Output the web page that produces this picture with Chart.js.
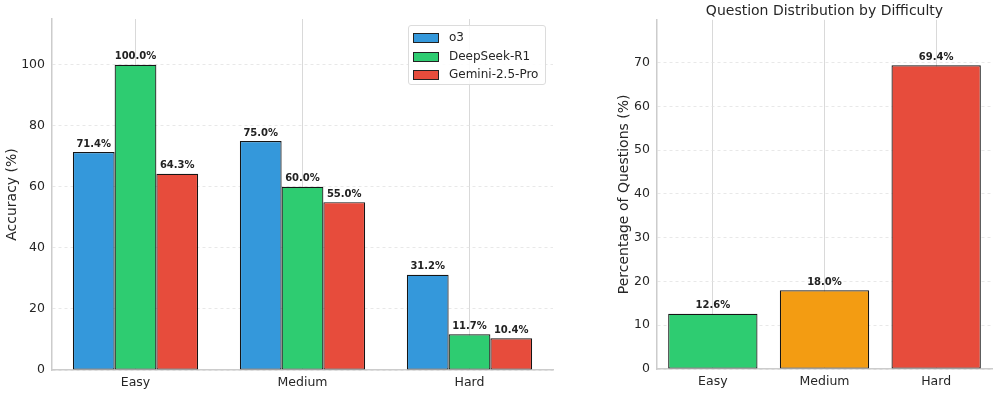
<!DOCTYPE html>
<html>
<head>
<meta charset="utf-8">
<script src="https://cdn.jsdelivr.net/npm/chart.js@4/dist/chart.umd.min.js"></script>
<style>
  body { margin: 0; background: #fff; width: 996px; height: 394px; position: relative; overflow: hidden; font-family: "DejaVu Sans", sans-serif; }
  #accWrap { position: absolute; left: 0; top: 0; width: 560px; height: 394px; }
  #distWrap { position: absolute; left: 600px; top: 0; width: 396px; height: 394px; }
  #legend { position: absolute; left: 408px; top: 25px; width: 136px; height: 58px; border: 1px solid #dcdcdc; border-radius: 3px; background: rgba(255,255,255,0.85); }
  .item { position: absolute; left: 4px; height: 18px; font-size: 12px; color: #262626; line-height: 18px; }
  .sw { position: absolute; left: 0; top: 5px; width: 24px; height: 8px; border: 1px solid #222; }
  .item span { position: absolute; left: 36px; white-space: nowrap; }
</style>
</head>
<body>
<div id="accWrap"><canvas id="accChart"></canvas></div>
<div id="distWrap"><canvas id="distChart"></canvas></div>
<div id="legend"></div>
<script>
const categories = ['Easy', 'Medium', 'Hard'];
const modelNames = ['o3', 'DeepSeek-R1', 'Gemini-2.5-Pro'];
const o3Acc = [71.4, 75.0, 31.2];
const deepseekAcc = [100.0, 60.0, 11.7];
const geminiAcc = [64.3, 55.0, 10.4];
const distribution = [12.6, 18.0, 69.4];

const modelColors = ['#3498db', '#2ecc71', '#e74c3c'];
const distColors = ['#2ecc71', '#f39c12', '#e74c3c'];

Chart.defaults.font.family = '"DejaVu Sans", sans-serif';
Chart.defaults.color = '#262626';
Chart.defaults.animation = false;

// value labels on top of bars
const barLabels = {
    id: 'barLabels',
    afterDatasetsDraw(chart) {
        const ctx = chart.ctx;
        ctx.save();
        ctx.font = 'bold 10px "DejaVu Sans"';
        ctx.fillStyle = '#222';
        ctx.textAlign = 'center';
        ctx.textBaseline = 'bottom';
        chart.data.datasets.forEach((ds, i) => {
            chart.getDatasetMeta(i).data.forEach((bar, j) => {
                ctx.fillText(ds.data[j].toFixed(1) + '%', bar.x, bar.y - 3);
            });
        });
        ctx.restore();
    }
};

function makeScales(yMax, step, yTitle, titlePad, yWidth, xHeight) {
    return {
        x: {
            grid: { offset: false, color: '#d9d9d9', lineWidth: 1, drawTicks: false },
            border: { color: '#cccccc', width: 1.5 },
            ticks: { font: { size: 12.5 }, padding: 5, color: '#262626' },
            afterFit: s => { s.height = xHeight; }
        },
        y: {
            min: 0,
            max: yMax,
            grid: { color: '#e3e3e3', lineWidth: 0.8, drawTicks: false },
            border: { color: '#cccccc', width: 1.5, dash: [3, 3] },
            ticks: { stepSize: step, font: { size: 12.5 }, padding: 7, color: '#262626' },
            afterBuildTicks: s => { s.ticks = s.ticks.filter(t => t.value % step === 0); },
            title: { display: true, text: yTitle, font: { size: 14 }, padding: { top: titlePad, bottom: 0 }, color: '#262626' },
            afterFit: s => { s.width = yWidth; }
        }
    };
}

const accData = [o3Acc, deepseekAcc, geminiAcc];

new Chart(document.getElementById('accChart'), {
    type: 'bar',
    data: {
        labels: categories,
        datasets: modelNames.map((name, i) => ({
            label: name,
            data: accData[i],
            backgroundColor: modelColors[i],
            borderColor: '#151515',
            borderWidth: 1.2,
            borderSkipped: false,
            categoryPercentage: 0.75,
            barPercentage: 1.0
        }))
    },
    options: {
        responsive: true,
        maintainAspectRatio: false,
        layout: { padding: { top: 19, right: 7, left: 0, bottom: 0 } },
        plugins: { legend: { display: false }, tooltip: { enabled: false } },
        scales: makeScales(115, 20, 'Accuracy (%)', 4, 52, 24)
    },
    plugins: [barLabels]
});

new Chart(document.getElementById('distChart'), {
    type: 'bar',
    data: {
        labels: categories,
        datasets: [{
            label: 'Questions',
            data: distribution,
            backgroundColor: distColors,
            borderColor: '#151515',
            borderWidth: 1.2,
            borderSkipped: false,
            categoryPercentage: 0.8,
            barPercentage: 1.0
        }]
    },
    options: {
        responsive: true,
        maintainAspectRatio: false,
        layout: { padding: { top: 0, right: 4, left: 0, bottom: 0 } },
        plugins: {
            legend: { display: false },
            tooltip: { enabled: false },
            title: {
                display: true,
                text: 'Question Distribution by Difficulty',
                fullSize: false,
                font: { size: 14, weight: 'normal' },
                color: '#262626',
                padding: { top: 3, bottom: 0 }
            }
        },
        scales: makeScales(79.8, 10, 'Percentage of Questions (%)', 16, 57, 25)
    },
    plugins: [barLabels]
});

// legend
const legend = document.getElementById('legend');
modelNames.forEach((name, i) => {
    const item = document.createElement('div');
    item.className = 'item';
    item.style.top = (2 + i * 18.5) + 'px';
    item.innerHTML = '<div class="sw" style="background:' + modelColors[i] + '"></div><span>' + name + '</span>';
    legend.appendChild(item);
});
</script>
</body>
</html>
